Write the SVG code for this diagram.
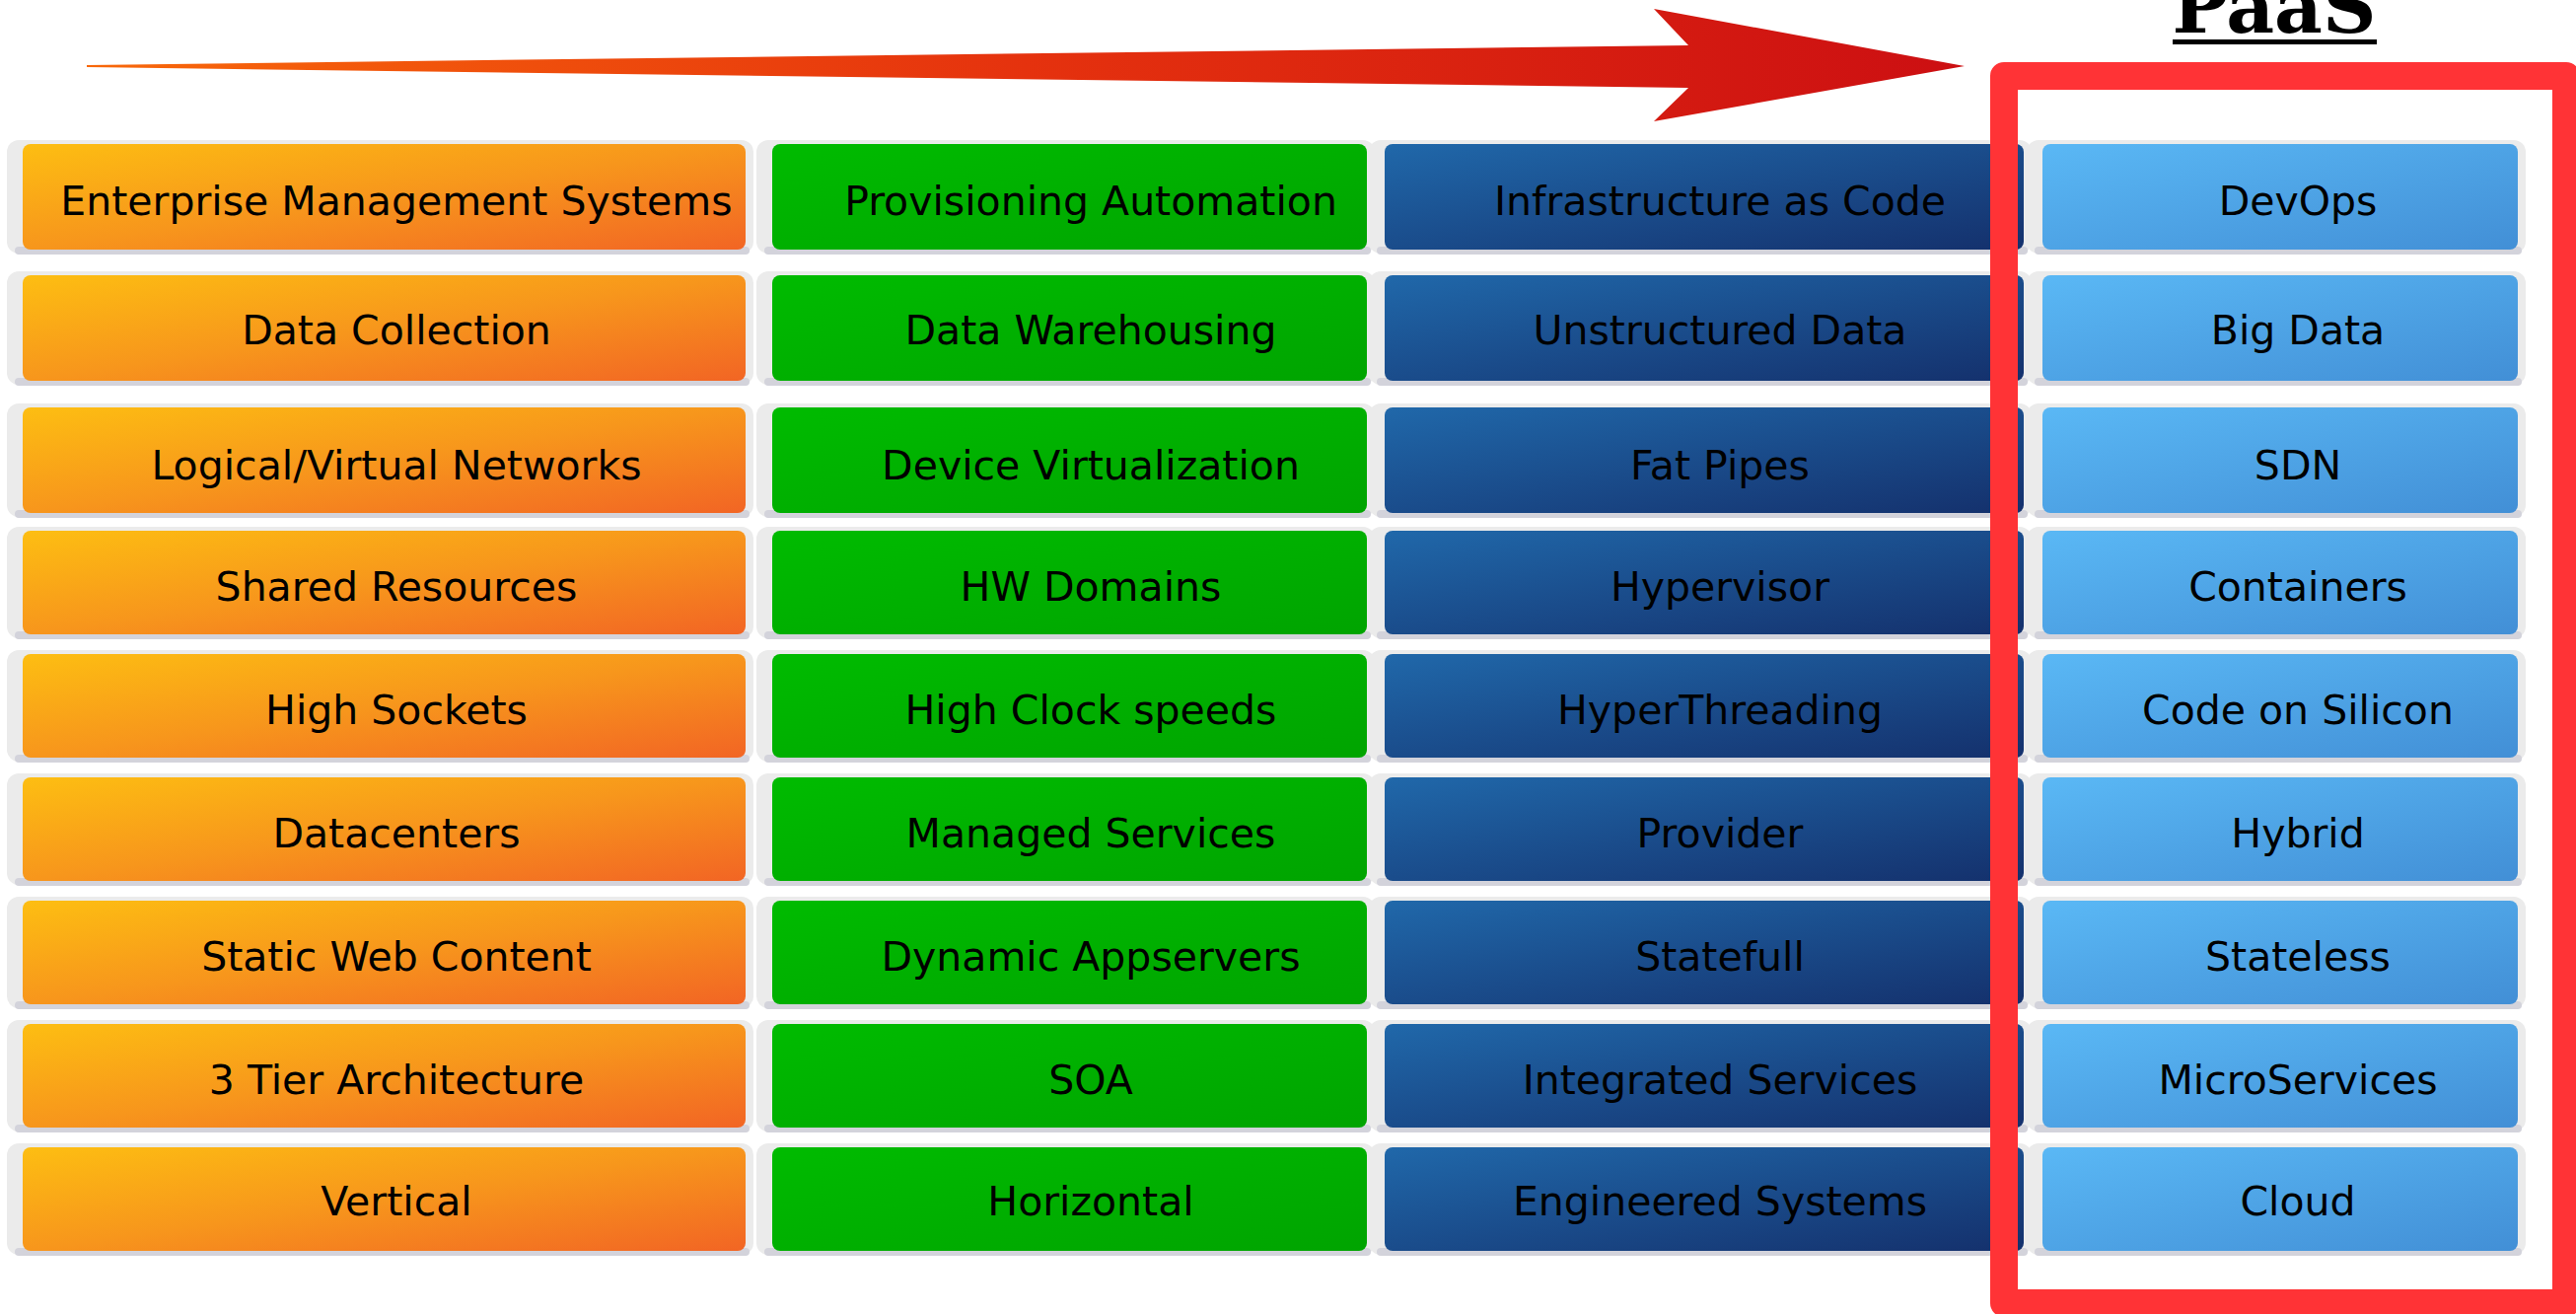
<svg xmlns="http://www.w3.org/2000/svg" width="2612" height="1332" viewBox="0 0 2612 1332">
<defs>
<linearGradient id="gOr" x1="0" y1="0" x2="1" y2="1"><stop offset="0" stop-color="#fdbe12"/><stop offset="0.5" stop-color="#f7961c"/><stop offset="1" stop-color="#f26524"/></linearGradient>
<linearGradient id="gGr" x1="0" y1="0" x2="1" y2="1"><stop offset="0" stop-color="#00bb00"/><stop offset="1" stop-color="#00a400"/></linearGradient>
<linearGradient id="gBl" x1="0" y1="0" x2="1" y2="1"><stop offset="0" stop-color="#2068aa"/><stop offset="1" stop-color="#14306c"/></linearGradient>
<linearGradient id="gLb" x1="0" y1="0" x2="1" y2="1"><stop offset="0" stop-color="#5ab8f5"/><stop offset="1" stop-color="#428fd6"/></linearGradient>
<linearGradient id="gAr" x1="88" y1="0" x2="1992" y2="0" gradientUnits="userSpaceOnUse"><stop offset="0" stop-color="#f8680a"/><stop offset="0.5" stop-color="#e5320e"/><stop offset="1" stop-color="#cc0f12"/></linearGradient>
</defs>
<style>
.bk{fill:#ebebeb}
.sh{fill:#d3d3db}
.or{fill:url(#gOr)}
.gr{fill:url(#gGr)}
.bl{fill:url(#gBl)}
.lb{fill:url(#gLb)}
.t{font-family:"DejaVu Sans",sans-serif;font-size:41px;fill:#000;text-anchor:middle}
</style>
<g id="arrow">
<polygon points="88,66 1712,46 1677,9 1992,67 1677,123 1712,89 88,68" fill="url(#gAr)"/>
</g>
<g id="paas-title">
<text x="2306" y="33" font-family="DejaVu Serif, serif" font-weight="bold" font-size="75" text-anchor="middle" fill="#000" textLength="207" lengthAdjust="spacingAndGlyphs">PaaS</text>
<rect x="2203" y="40" width="207" height="5" fill="#000"/>
</g>
<g id="nodes">
<!-- Row 1 -->
<g id="n-1-1"><rect class="bk" x="7" y="142" width="757" height="115" rx="12"/><rect class="sh" x="15" y="250" width="745" height="8" rx="4"/><rect class="or" x="23" y="146" width="733" height="107" rx="8"/><text class="t" x="402" y="218">Enterprise Management Systems</text></g>
<g id="n-1-2"><rect class="bk" x="767" y="142" width="627" height="115" rx="12"/><rect class="sh" x="775" y="250" width="615" height="8" rx="4"/><rect class="gr" x="783" y="146" width="603" height="107" rx="8"/><text class="t" x="1106" y="218">Provisioning Automation</text></g>
<g id="n-1-3"><rect class="bk" x="1388" y="142" width="672" height="115" rx="12"/><rect class="sh" x="1396" y="250" width="660" height="8" rx="4"/><rect class="bl" x="1404" y="146" width="648" height="107" rx="8"/><text class="t" x="1744" y="218">Infrastructure as Code</text></g>
<g id="n-1-4"><rect class="bk" x="2055" y="142" width="506" height="115" rx="12"/><rect class="sh" x="2063" y="250" width="494" height="8" rx="4"/><rect class="lb" x="2071" y="146" width="482" height="107" rx="8"/><text class="t" x="2330" y="218">DevOps</text></g>
<!-- Row 2 -->
<g id="n-2-1"><rect class="bk" x="7" y="275" width="757" height="115" rx="12"/><rect class="sh" x="15" y="383" width="745" height="8" rx="4"/><rect class="or" x="23" y="279" width="733" height="107" rx="8"/><text class="t" x="402" y="349">Data Collection</text></g>
<g id="n-2-2"><rect class="bk" x="767" y="275" width="627" height="115" rx="12"/><rect class="sh" x="775" y="383" width="615" height="8" rx="4"/><rect class="gr" x="783" y="279" width="603" height="107" rx="8"/><text class="t" x="1106" y="349">Data Warehousing</text></g>
<g id="n-2-3"><rect class="bk" x="1388" y="275" width="672" height="115" rx="12"/><rect class="sh" x="1396" y="383" width="660" height="8" rx="4"/><rect class="bl" x="1404" y="279" width="648" height="107" rx="8"/><text class="t" x="1744" y="349">Unstructured Data</text></g>
<g id="n-2-4"><rect class="bk" x="2055" y="275" width="506" height="115" rx="12"/><rect class="sh" x="2063" y="383" width="494" height="8" rx="4"/><rect class="lb" x="2071" y="279" width="482" height="107" rx="8"/><text class="t" x="2330" y="349">Big Data</text></g>
<!-- Row 3 -->
<g id="n-3-1"><rect class="bk" x="7" y="409" width="757" height="115" rx="12"/><rect class="sh" x="15" y="517" width="745" height="8" rx="4"/><rect class="or" x="23" y="413" width="733" height="107" rx="8"/><text class="t" x="402" y="486">Logical/Virtual Networks</text></g>
<g id="n-3-2"><rect class="bk" x="767" y="409" width="627" height="115" rx="12"/><rect class="sh" x="775" y="517" width="615" height="8" rx="4"/><rect class="gr" x="783" y="413" width="603" height="107" rx="8"/><text class="t" x="1106" y="486">Device Virtualization</text></g>
<g id="n-3-3"><rect class="bk" x="1388" y="409" width="672" height="115" rx="12"/><rect class="sh" x="1396" y="517" width="660" height="8" rx="4"/><rect class="bl" x="1404" y="413" width="648" height="107" rx="8"/><text class="t" x="1744" y="486">Fat Pipes</text></g>
<g id="n-3-4"><rect class="bk" x="2055" y="409" width="506" height="115" rx="12"/><rect class="sh" x="2063" y="517" width="494" height="8" rx="4"/><rect class="lb" x="2071" y="413" width="482" height="107" rx="8"/><text class="t" x="2330" y="486">SDN</text></g>
<!-- Row 4 -->
<g id="n-4-1"><rect class="bk" x="7" y="534" width="757" height="113" rx="12"/><rect class="sh" x="15" y="640" width="745" height="8" rx="4"/><rect class="or" x="23" y="538" width="733" height="105" rx="8"/><text class="t" x="402" y="609">Shared Resources</text></g>
<g id="n-4-2"><rect class="bk" x="767" y="534" width="627" height="113" rx="12"/><rect class="sh" x="775" y="640" width="615" height="8" rx="4"/><rect class="gr" x="783" y="538" width="603" height="105" rx="8"/><text class="t" x="1106" y="609">HW Domains</text></g>
<g id="n-4-3"><rect class="bk" x="1388" y="534" width="672" height="113" rx="12"/><rect class="sh" x="1396" y="640" width="660" height="8" rx="4"/><rect class="bl" x="1404" y="538" width="648" height="105" rx="8"/><text class="t" x="1744" y="609">Hypervisor</text></g>
<g id="n-4-4"><rect class="bk" x="2055" y="534" width="506" height="113" rx="12"/><rect class="sh" x="2063" y="640" width="494" height="8" rx="4"/><rect class="lb" x="2071" y="538" width="482" height="105" rx="8"/><text class="t" x="2330" y="609">Containers</text></g>
<!-- Row 5 -->
<g id="n-5-1"><rect class="bk" x="7" y="659" width="757" height="113" rx="12"/><rect class="sh" x="15" y="765" width="745" height="8" rx="4"/><rect class="or" x="23" y="663" width="733" height="105" rx="8"/><text class="t" x="402" y="734">High Sockets</text></g>
<g id="n-5-2"><rect class="bk" x="767" y="659" width="627" height="113" rx="12"/><rect class="sh" x="775" y="765" width="615" height="8" rx="4"/><rect class="gr" x="783" y="663" width="603" height="105" rx="8"/><text class="t" x="1106" y="734">High Clock speeds</text></g>
<g id="n-5-3"><rect class="bk" x="1388" y="659" width="672" height="113" rx="12"/><rect class="sh" x="1396" y="765" width="660" height="8" rx="4"/><rect class="bl" x="1404" y="663" width="648" height="105" rx="8"/><text class="t" x="1744" y="734">HyperThreading</text></g>
<g id="n-5-4"><rect class="bk" x="2055" y="659" width="506" height="113" rx="12"/><rect class="sh" x="2063" y="765" width="494" height="8" rx="4"/><rect class="lb" x="2071" y="663" width="482" height="105" rx="8"/><text class="t" x="2330" y="734">Code on Silicon</text></g>
<!-- Row 6 -->
<g id="n-6-1"><rect class="bk" x="7" y="784" width="757" height="113" rx="12"/><rect class="sh" x="15" y="890" width="745" height="8" rx="4"/><rect class="or" x="23" y="788" width="733" height="105" rx="8"/><text class="t" x="402" y="859">Datacenters</text></g>
<g id="n-6-2"><rect class="bk" x="767" y="784" width="627" height="113" rx="12"/><rect class="sh" x="775" y="890" width="615" height="8" rx="4"/><rect class="gr" x="783" y="788" width="603" height="105" rx="8"/><text class="t" x="1106" y="859">Managed Services</text></g>
<g id="n-6-3"><rect class="bk" x="1388" y="784" width="672" height="113" rx="12"/><rect class="sh" x="1396" y="890" width="660" height="8" rx="4"/><rect class="bl" x="1404" y="788" width="648" height="105" rx="8"/><text class="t" x="1744" y="859">Provider</text></g>
<g id="n-6-4"><rect class="bk" x="2055" y="784" width="506" height="113" rx="12"/><rect class="sh" x="2063" y="890" width="494" height="8" rx="4"/><rect class="lb" x="2071" y="788" width="482" height="105" rx="8"/><text class="t" x="2330" y="859">Hybrid</text></g>
<!-- Row 7 -->
<g id="n-7-1"><rect class="bk" x="7" y="909" width="757" height="113" rx="12"/><rect class="sh" x="15" y="1015" width="745" height="8" rx="4"/><rect class="or" x="23" y="913" width="733" height="105" rx="8"/><text class="t" x="402" y="984">Static Web Content</text></g>
<g id="n-7-2"><rect class="bk" x="767" y="909" width="627" height="113" rx="12"/><rect class="sh" x="775" y="1015" width="615" height="8" rx="4"/><rect class="gr" x="783" y="913" width="603" height="105" rx="8"/><text class="t" x="1106" y="984">Dynamic Appservers</text></g>
<g id="n-7-3"><rect class="bk" x="1388" y="909" width="672" height="113" rx="12"/><rect class="sh" x="1396" y="1015" width="660" height="8" rx="4"/><rect class="bl" x="1404" y="913" width="648" height="105" rx="8"/><text class="t" x="1744" y="984">Statefull</text></g>
<g id="n-7-4"><rect class="bk" x="2055" y="909" width="506" height="113" rx="12"/><rect class="sh" x="2063" y="1015" width="494" height="8" rx="4"/><rect class="lb" x="2071" y="913" width="482" height="105" rx="8"/><text class="t" x="2330" y="984">Stateless</text></g>
<!-- Row 8 -->
<g id="n-8-1"><rect class="bk" x="7" y="1034" width="757" height="113" rx="12"/><rect class="sh" x="15" y="1140" width="745" height="8" rx="4"/><rect class="or" x="23" y="1038" width="733" height="105" rx="8"/><text class="t" x="402" y="1109">3 Tier Architecture</text></g>
<g id="n-8-2"><rect class="bk" x="767" y="1034" width="627" height="113" rx="12"/><rect class="sh" x="775" y="1140" width="615" height="8" rx="4"/><rect class="gr" x="783" y="1038" width="603" height="105" rx="8"/><text class="t" x="1106" y="1109">SOA</text></g>
<g id="n-8-3"><rect class="bk" x="1388" y="1034" width="672" height="113" rx="12"/><rect class="sh" x="1396" y="1140" width="660" height="8" rx="4"/><rect class="bl" x="1404" y="1038" width="648" height="105" rx="8"/><text class="t" x="1744" y="1109">Integrated Services</text></g>
<g id="n-8-4"><rect class="bk" x="2055" y="1034" width="506" height="113" rx="12"/><rect class="sh" x="2063" y="1140" width="494" height="8" rx="4"/><rect class="lb" x="2071" y="1038" width="482" height="105" rx="8"/><text class="t" x="2330" y="1109">MicroServices</text></g>
<!-- Row 9 -->
<g id="n-9-1"><rect class="bk" x="7" y="1159" width="757" height="113" rx="12"/><rect class="sh" x="15" y="1265" width="745" height="8" rx="4"/><rect class="or" x="23" y="1163" width="733" height="105" rx="8"/><text class="t" x="402" y="1232">Vertical</text></g>
<g id="n-9-2"><rect class="bk" x="767" y="1159" width="627" height="113" rx="12"/><rect class="sh" x="775" y="1265" width="615" height="8" rx="4"/><rect class="gr" x="783" y="1163" width="603" height="105" rx="8"/><text class="t" x="1106" y="1232">Horizontal</text></g>
<g id="n-9-3"><rect class="bk" x="1388" y="1159" width="672" height="113" rx="12"/><rect class="sh" x="1396" y="1265" width="660" height="8" rx="4"/><rect class="bl" x="1404" y="1163" width="648" height="105" rx="8"/><text class="t" x="1744" y="1232">Engineered Systems</text></g>
<g id="n-9-4"><rect class="bk" x="2055" y="1159" width="506" height="113" rx="12"/><rect class="sh" x="2063" y="1265" width="494" height="8" rx="4"/><rect class="lb" x="2071" y="1163" width="482" height="105" rx="8"/><text class="t" x="2330" y="1232">Cloud</text></g>
</g>
<g id="paas-frame">
<rect x="2032" y="77" width="570" height="1244" fill="none" stroke="#ff3336" stroke-width="28" stroke-linejoin="round"/>
</g>
<g id="connectors"/>
</svg>
